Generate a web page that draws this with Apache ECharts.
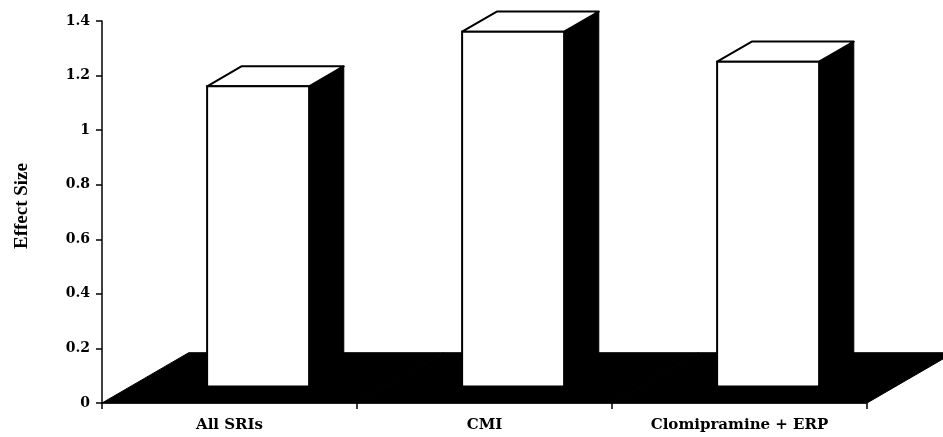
<!DOCTYPE html>
<html>
<head>
<meta charset="utf-8">
<title>Effect Size</title>
<script src="https://cdn.jsdelivr.net/npm/echarts@6/dist/echarts.min.js"></script>
<style>
  html, body { margin: 0; padding: 0; background: #fff; }
  #chart { width: 943px; height: 437px; }
</style>
</head>
<body>
<div id="chart"></div>
<script>
// Treatment groups and their effect sizes
const categories = ['All SRIs', 'CMI', 'Clomipramine + ERP'];
const effectSizes = [1.10, 1.30, 1.19];
const yTicks = { min: 0, max: 1.4, step: 0.2 };

// 3D look, as fractions of one category band
const FLOOR_DEPTH = 0.34;   // horizontal depth of the floor
const SLOPE = 0.58;         // vertical / horizontal for receding edges
const BAR_WIDTH = 0.40;     // bar front width
const BAR_START = 0.33;     // where the bar front sits within the floor depth
const BAR_DEPTH = 0.40;     // bar depth as part of the floor depth

const chart = echarts.init(document.getElementById('chart'), null, { renderer: 'canvas' });

function floorItem(params, api) {
  const i = api.value(0);
  const bw = api.size([1, 0])[0];
  const c = api.coord([i, 0]);
  const x0 = c[0] - bw / 2, x1 = c[0] + bw / 2, y = c[1];
  const dx = FLOOR_DEPTH * bw, dy = dx * SLOPE;
  return {
    type: 'polygon',
    shape: { points: [[x0, y], [x1, y], [x1 + dx, y - dy], [x0 + dx, y - dy]] },
    style: { fill: '#000', stroke: '#000', lineWidth: 1 }
  };
}

function barItem(params, api) {
  const i = api.value(0);
  const v = api.value(1);
  const bw = api.size([1, 0])[0];
  const base = api.coord([i, 0]);
  const top = api.coord([i, v]);
  const fdx = FLOOR_DEPTH * bw;
  const offX = BAR_START * fdx, lift = offX * SLOPE;
  const ddx = BAR_DEPTH * fdx, ddy = ddx * SLOPE;
  const w = BAR_WIDTH * bw;
  const l = base[0] + offX - w / 2, r = l + w;
  const b = base[1] - lift, t = top[1] - lift;
  return {
    type: 'group',
    children: [
      { type: 'polygon',
        shape: { points: [[r, t], [r + ddx, t - ddy], [r + ddx, b - ddy], [r, b]] },
        style: { fill: '#000', stroke: '#000', lineWidth: 1 } },
      { type: 'polygon',
        shape: { points: [[l, t], [r, t], [r + ddx, t - ddy], [l + ddx, t - ddy]] },
        style: { fill: '#fff', stroke: '#000', lineWidth: 2, lineJoin: 'round' } },
      { type: 'rect',
        shape: { x: l, y: t, width: w, height: b - t },
        style: { fill: '#fff', stroke: '#000', lineWidth: 2 } }
    ]
  };
}

const serif = '"DejaVu Serif", "Liberation Serif", serif';

chart.setOption({
  animation: false,
  backgroundColor: '#fff',
  grid: { left: 102, right: 76, top: 21, bottom: 34 },
  xAxis: {
    type: 'category',
    data: categories,
    axisLine: { show: true, lineStyle: { color: '#000', width: 1.5 } },
    axisTick: { show: true, length: 6, lineStyle: { color: '#000', width: 1.5 } },
    axisLabel: { color: '#000', fontFamily: serif, fontSize: 15, fontWeight: 'bold', margin: 15 }
  },
  yAxis: {
    type: 'value',
    min: yTicks.min,
    max: yTicks.max,
    interval: yTicks.step,
    name: 'Effect Size',
    nameLocation: 'middle',
    nameGap: 70,
    nameTextStyle: { color: '#000', fontFamily: '"Liberation Serif", serif', fontSize: 19, fontWeight: 'bold', padding: [0, 0, 0, 12] },
    splitLine: { show: false },
    axisLine: { show: true, lineStyle: { color: '#000', width: 1.5 } },
    axisTick: { show: true, length: 6, lineStyle: { color: '#000', width: 1.5 } },
    axisLabel: { color: '#000', fontFamily: serif, fontSize: 14, fontWeight: 'bold', margin: 12 }
  },
  series: [
    {
      type: 'custom',
      name: 'floor',
      z: 1,
      renderItem: floorItem,
      data: categories.map((c, i) => [i, 0])
    },
    {
      type: 'custom',
      name: 'Effect Size',
      z: 3,
      renderItem: barItem,
      data: effectSizes.map((v, i) => [i, v])
    }
  ]
});
</script>
</body>
</html>
